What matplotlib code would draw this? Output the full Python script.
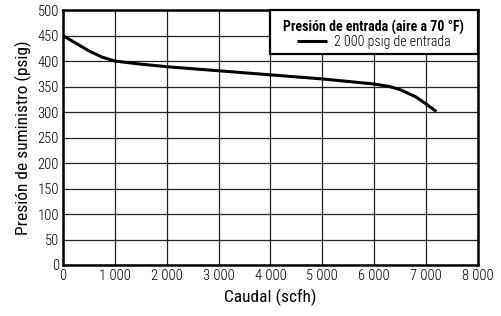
import matplotlib
matplotlib.use("Agg")
import matplotlib.pyplot as plt
from matplotlib import font_manager as fmg
from matplotlib.patches import Rectangle

# curva de presion de suministro
caudal = [0, 250, 500, 750, 1000, 1500, 2000, 3000, 4000, 5000, 6000, 6300, 6500, 6800, 7000, 7200]
presion = [450, 435, 420, 408, 400, 394, 389, 381, 373, 365, 355, 350, 344, 330, 316, 301]

x_ticks = [0, 1000, 2000, 3000, 4000, 5000, 6000, 7000, 8000]
x_labels = ["0", "1 000", "2 000", "3 000", "4 000", "5 000", "6 000", "7 000", "8 000"]
y_ticks = list(range(0, 501, 50))

disponibles = {f.name for f in fmg.fontManager.ttflist}
preferidas = ["Roboto Condensed", "Archivo Narrow", "Barlow Condensed",
              "Liberation Sans Narrow", "DejaVu Sans"]
familia = next(f for f in preferidas if f in disponibles)
plt.rcParams["font.family"] = [familia, "DejaVu Sans"]
plt.rcParams["font.weight"] = "light"

fig = plt.figure(figsize=(5.02, 3.16), dpi=100)
ax = fig.add_axes([0.1255, 0.1614, 0.8265, 0.8066])

ax.plot(caudal, presion, color="black", lw=2.2, solid_capstyle="butt",
        label="2 000 psig de entrada", zorder=3)

ax.set_xlim(0, 8000)
ax.set_ylim(0, 500)
ax.set_xticks(x_ticks)
ax.set_xticklabels(x_labels)
ax.set_yticks(y_ticks)
ax.grid(True, color="#222222", lw=0.9)
ax.tick_params(length=0, labelsize=10.5, pad=3)
for s in ax.spines.values():
    s.set_linewidth(1.8)
    s.set_color("black")

ax.set_xlabel("Caudal (scfh)", fontsize=12.5, labelpad=4)
ax.set_ylabel("Presión de suministro (psig)", fontsize=12.5, labelpad=4)

# caja de la leyenda dibujada aparte
x0, y0 = 0.499, 0.826
ax.add_patch(Rectangle((x0, y0), 1 - x0, 1 - y0, transform=ax.transAxes,
                       facecolor="white", edgecolor="black", lw=1.6,
                       zorder=4, clip_on=False))
leg = ax.legend(loc="upper center", bbox_to_anchor=(x0, 0, 1 - x0, 0.96),
                title="Presión de entrada (aire a 70 °F)",
                fontsize=10, title_fontproperties={"weight": "bold", "size": 10},
                frameon=False, borderaxespad=0, handlelength=2.2,
                handletextpad=0.5, borderpad=0, labelspacing=0)
leg.set_zorder(5)

fig.savefig("out.png", dpi=100)
